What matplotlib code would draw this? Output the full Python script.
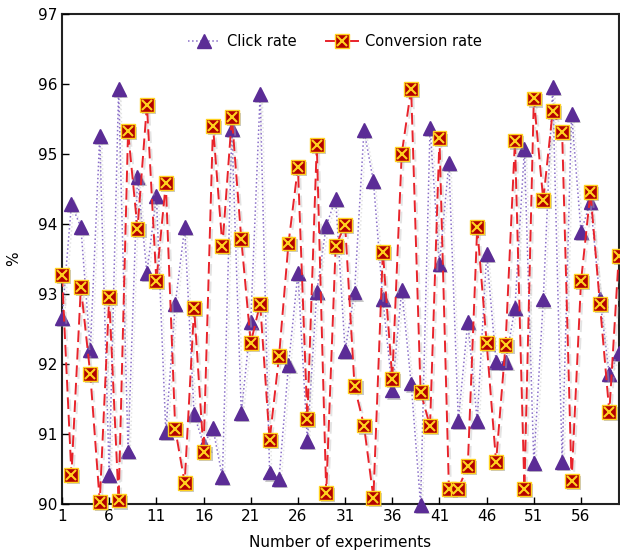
import matplotlib
matplotlib.use("Agg")
import matplotlib.pyplot as plt
import matplotlib.patheffects as pe
from matplotlib.lines import Line2D
from matplotlib.legend_handler import HandlerTuple
import numpy as np

experiments = list(range(1, 61))
click_rate = [92.65, 94.28, 93.95, 92.2, 95.25, 90.42, 95.93, 90.75, 94.67, 93.3,
              94.4, 91.03, 92.85, 93.95, 91.28, 90.85, 91.08, 90.38, 95.35, 91.3,
              92.6, 95.86, 90.45, 90.36, 91.98, 93.3, 90.9, 93.03, 93.97, 94.36,
              92.19, 93.02, 95.34, 94.61, 92.93, 91.62, 93.06, 91.72, 89.99, 95.37,
              93.43, 94.87, 91.19, 92.6, 91.19, 93.57, 92.03, 92.03, 92.8, 95.07,
              90.58, 92.92, 95.96, 90.6, 95.57, 93.89, 94.31, 92.93, 91.85, 92.15]
conversion_rate = [93.27, 90.42, 93.1, 91.85, 90.03, 92.95, 90.05, 95.32, 93.93, 95.7,
                   93.18, 94.58, 91.07, 90.3, 92.8, 90.74, 95.4, 93.68, 95.52, 93.78,
                   92.3, 92.86, 90.91, 92.11, 93.72, 94.81, 91.21, 95.13, 90.16, 93.68,
                   93.99, 91.68, 91.12, 90.09, 93.6, 91.79, 95.0, 95.93, 91.6, 91.11,
                   95.22, 90.22, 90.22, 90.54, 93.95, 92.3, 90.6, 92.27, 95.19, 90.21,
                   95.79, 94.34, 95.61, 95.31, 90.33, 93.18, 94.45, 92.86, 91.31, 93.54]
xticks = [1, 6, 11, 16, 21, 26, 31, 36, 41, 46, 51, 56]
yticks = [90, 91, 92, 93, 94, 95, 96, 97]

purple = "#5b2c96"
red_line = "#e8232b"
sq_face = "#b30000"
yellow = "#ffd21f"

plt.rcParams['font.family'] = ['DejaVu Sans']
fig = plt.figure(figsize=(6.2, 5.59), dpi=100)
ax = fig.add_axes([0.1, 0.0984, 0.898, 0.877])

shadow = [pe.SimplePatchShadow(offset=(1.5, -1.5), shadow_rgbFace="#888888", alpha=0.45), pe.Normal()]
lshadow = [pe.SimpleLineShadow(offset=(1.5, -1.5), shadow_color="#bbbbbb", alpha=0.4), pe.Normal()]

# click rate line + markers
ax.plot(experiments, click_rate, linestyle=":", color="#8a6fc8", lw=1.1, zorder=2,
        path_effects=lshadow)
ax.plot(experiments, click_rate, linestyle="none", marker="^", ms=10,
        mfc=purple, mec=purple, zorder=3, path_effects=shadow, clip_on=False)

# conversion line + markers
ax.plot(experiments, conversion_rate, linestyle=(0, (6, 3)), color=red_line, lw=1.4,
        zorder=4, path_effects=lshadow)
ax.plot(experiments, conversion_rate, linestyle="none", marker="s", ms=10,
        mfc=sq_face, mec=yellow, mew=1.0, zorder=5, path_effects=shadow, clip_on=False)
ax.plot(experiments, conversion_rate, linestyle="none", marker="x", ms=7,
        mec=yellow, mew=1.5, zorder=6, clip_on=False)

ax.set_xlim(1, 60)
ax.set_ylim(90, 97)
ax.set_xticks(xticks)
ax.set_yticks(yticks)
ax.tick_params(direction="in", labelsize=11, length=5, width=1)
for s in ax.spines.values():
    s.set_linewidth(1.5)
    s.set_color("#222222")
    s.set_zorder(1)
ax.set_xlabel("Number of experiments", fontsize=11, labelpad=8)
ax.set_ylabel("%", fontsize=11, labelpad=12)

h1 = Line2D([], [], linestyle=":", color="#8a6fc8", lw=1.1, marker="^", ms=10,
            mfc=purple, mec=purple)
h2a = Line2D([], [], linestyle="-", color=red_line, lw=1.4, marker="s", ms=10,
             mfc=sq_face, mec=yellow)
h2b = Line2D([], [], linestyle="none", marker="x", ms=7, mec=yellow, mew=1.5)
ax.legend([h1, (h2a, h2b)], ["Click rate", "Conversion rate"],
          handler_map={tuple: HandlerTuple(ndivide=1)},
          loc="upper center", ncol=2, frameon=False, fontsize=10.5,
          bbox_to_anchor=(0.49, 0.985), handlelength=2.2, columnspacing=2.0,
          handletextpad=0.5)

fig.savefig("out.png", dpi=100)
